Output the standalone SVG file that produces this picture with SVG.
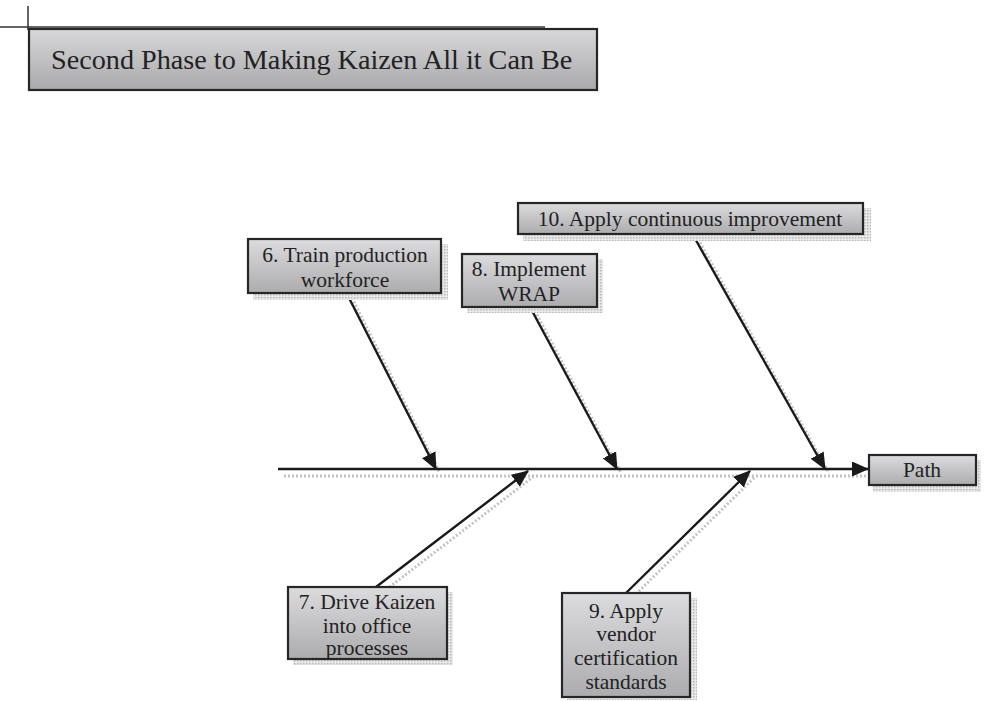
<svg xmlns="http://www.w3.org/2000/svg" width="988" height="701" viewBox="0 0 988 701">
<style>
.box{fill:url(#g);stroke:#262626;stroke-width:2.2}
.sh{fill:url(#dots)}
.t{font-family:"Liberation Serif","DejaVu Serif",serif;font-size:21.5px;fill:#222;text-anchor:middle}
.title{font-family:"Liberation Serif","DejaVu Serif",serif;font-size:28.2px;fill:#222}
.ln{stroke:#1a1a1a;stroke-width:2.4;fill:none}
.lsh{stroke:#c4c4c4;stroke-width:3;stroke-dasharray:2 2;fill:none}
</style>
<defs>
<linearGradient id="g" x1="0" y1="0" x2="0" y2="1">
<stop offset="0" stop-color="#dcdcde"/>
<stop offset="1" stop-color="#acacae"/>
</linearGradient>
<linearGradient id="tg" x1="0" y1="0" x2="0" y2="1">
<stop offset="0" stop-color="#d8d8da"/>
<stop offset="1" stop-color="#a9a9ab"/>
</linearGradient>
<pattern id="dots" width="3" height="3" patternUnits="userSpaceOnUse">
<rect width="3" height="3" fill="#e8e8e8"/>
<rect width="1.5" height="1.5" fill="#b8b8b8"/>
</pattern>
<marker id="ahb" markerWidth="17" markerHeight="15" refX="16" refY="7.5" orient="auto" markerUnits="userSpaceOnUse" viewBox="0 0 17 15">
<path d="M0,0 L17,7.5 L0,15 z" fill="#1a1a1a"/>
</marker>
</defs>

<g id="title">
<line x1="0" y1="27" x2="545" y2="27" stroke="#333" stroke-width="1.5"/>
<line x1="28" y1="6" x2="28" y2="30" stroke="#333" stroke-width="1.5"/>
<rect x="29" y="29" width="568" height="61" fill="url(#tg)" stroke="#262626" stroke-width="2.2"/>
<text class="title" x="51" y="69">Second Phase to Making Kaizen All it Can Be</text>
</g>

<g id="connectors">
<line class="lsh" x1="284" y1="476" x2="866" y2="476"/>
<line class="lsh" x1="352" y1="298" x2="440" y2="473"/>
<line class="lsh" x1="535" y1="311" x2="621" y2="473"/>
<line class="lsh" x1="698" y1="239" x2="829" y2="473"/>
<line class="lsh" x1="383" y1="592" x2="533" y2="477"/>
<line class="lsh" x1="633" y1="597" x2="755" y2="477"/>
<line x1="278" y1="469" x2="868" y2="469" stroke="#1a1a1a" stroke-width="2.4" marker-end="url(#ahb)"/>
<line class="ln" x1="347" y1="294" x2="436" y2="469" marker-end="url(#ahb)"/>
<line class="ln" x1="530" y1="307" x2="617" y2="469" marker-end="url(#ahb)"/>
<line class="ln" x1="693" y1="235" x2="825" y2="469" marker-end="url(#ahb)"/>
<line class="ln" x1="376" y1="587" x2="528" y2="471" marker-end="url(#ahb)"/>
<line class="ln" x1="626" y1="593" x2="750" y2="471" marker-end="url(#ahb)"/>
</g>

<g id="n6">
<rect class="sh" x="253" y="244" width="195" height="56"/>
<rect class="box" x="248" y="239" width="193" height="54"/>
<text class="t" x="345" y="262">6. Train production</text>
<text class="t" x="345" y="287">workforce</text>
</g>

<g id="n8">
<rect class="sh" x="467" y="259" width="136" height="54"/>
<rect class="box" x="462" y="254" width="135" height="53"/>
<text class="t" x="529" y="276">8. Implement</text>
<text class="t" x="529" y="301">WRAP</text>
</g>

<g id="n10">
<rect class="sh" x="523" y="208" width="348" height="33"/>
<rect class="box" x="518" y="203" width="345" height="31"/>
<text class="t" x="690" y="226">10. Apply continuous improvement</text>
</g>

<g id="npath">
<rect class="sh" x="873" y="460" width="108" height="32"/>
<rect class="box" x="869" y="455" width="107" height="30"/>
<text class="t" x="922" y="477">Path</text>
</g>

<g id="n7">
<rect class="sh" x="293" y="592" width="160" height="73"/>
<rect class="box" x="288" y="587" width="159" height="72"/>
<text class="t" x="367" y="609">7. Drive Kaizen</text>
<text class="t" x="367" y="633">into office</text>
<text class="t" x="367" y="655">processes</text>
</g>

<g id="n9">
<rect class="sh" x="567" y="598" width="130" height="102"/>
<rect class="box" x="562" y="593" width="128" height="104"/>
<text class="t" x="626" y="618">9. Apply</text>
<text class="t" x="626" y="641">vendor</text>
<text class="t" x="626" y="665">certification</text>
<text class="t" x="626" y="689">standards</text>
</g>
</svg>
